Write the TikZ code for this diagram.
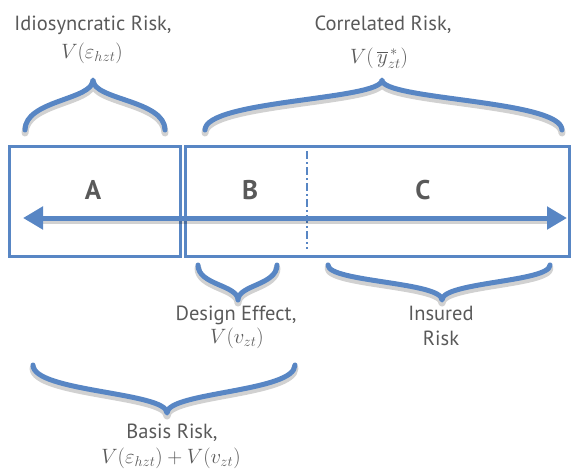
\documentclass[tikz,border=0pt]{standalone}
\usepackage{fontspec}
\setmainfont{PT Sans}
\usetikzlibrary{arrows.meta}
\definecolor{bblue}{RGB}{88,134,196}
\definecolor{tgray}{RGB}{89,89,89}
\newcommand{\mybrace}[6]{% x1, yend, xm, ytip, x2, ymid
  \draw[shadowline] (#1,#2) .. controls (#1,#6) and (#3,#6) .. (#3,#4) .. controls (#3,#6) and (#5,#6) .. (#5,#2);
  \draw[bracestyle] (#1,#2) .. controls (#1,#6) and (#3,#6) .. (#3,#4) .. controls (#3,#6) and (#5,#6) .. (#5,#2);
}
\begin{document}
\begin{tikzpicture}[x=1pt,y=-1pt,
  bracestyle/.style={draw=bblue,line width=5pt,line cap=round,line join=round},
  shadowline/.style={draw=black,opacity=0.18,line width=7pt,line cap=round,line join=round,transform canvas={yshift=-3pt}},
  boxline/.style={draw=bblue,line width=3pt},
  lbl/.style={text=tgray,font=\fontsize{20.5}{24}\selectfont,anchor=base},
  mth/.style={text=tgray,font=\fontsize{20}{24}\selectfont,anchor=base},
  letter/.style={text=tgray,font=\fontsize{27}{30}\selectfont\bfseries,anchor=base}]
\useasboundingbox (0,0) rectangle (574,472);
% boxes
\draw[boxline] (9,146) rectangle (180.5,256);
\draw[boxline] (185.5,146) rectangle (569,256);
\draw[draw=bblue,line width=2pt,dash pattern=on 8pt off 3pt on 2pt off 3pt] (307,151) -- (307,249);
% arrow
\coordinate (aL) at (23,218);
\coordinate (aR) at (567,218);
\draw[black,opacity=0.18,line width=6pt,transform canvas={yshift=-3pt}] (40,218) -- (550,218);
\draw[bblue,line width=5pt,{Triangle[length=20pt,width=22pt]}-{Triangle[length=20pt,width=22pt]}] (aL) -- (aR);
% letters
\node[letter] (A) at (93,199) {A};
\node[letter] (B) at (250,199) {B};
\node[letter] (C) at (423,199) {C};
% braces
\mybrace{25}{130}{93}{80}{165}{100}
\mybrace{205}{130}{382}{80}{562}{100}
\mybrace{198}{265}{238}{300}{277}{285}
\mybrace{328}{265}{442}{300}{550}{282}
\mybrace{33}{365}{167}{413}{295}{392}
% labels
\node[lbl] (idio) at (93,30) {Idiosyncratic Risk,};
\node[mth] (idiom) at (92,58) {$V(\varepsilon_{hzt})$};
\node[lbl] (corr) at (383,30) {Correlated Risk,};
\node[mth] (corrm) at (379,63) {$V(\,\overline{y}^{\,*}_{zt})$};
\node[lbl] (des) at (236,320) {Design Effect,};
\node[mth] (desm) at (237,343) {$V(v_{zt})$};
\node[lbl] (ins) at (441,320) {Insured};
\node[lbl] (ins2) at (441,345) {Risk};
\node[lbl] (bas) at (172,438) {Basis Risk,};
\node[mth] (basm) at (171,463) {$V(\varepsilon_{hzt})+V(v_{zt})$};
\end{tikzpicture}
\end{document}
